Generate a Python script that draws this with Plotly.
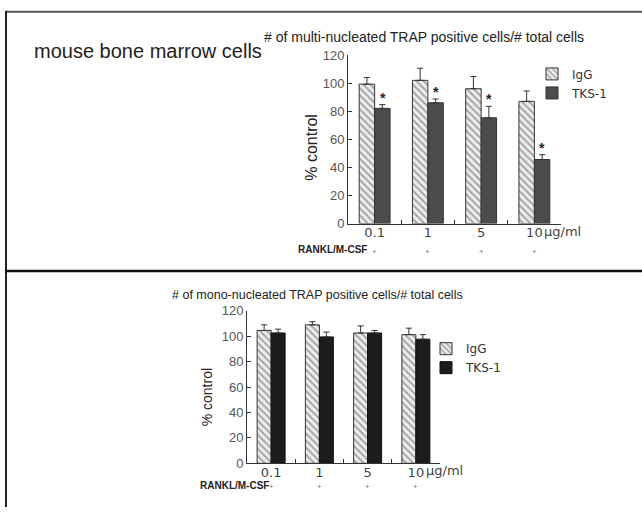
import plotly.graph_objects as go

# ---------------- data ----------------
doses = ["0.1", "1", "5", "10"]
dose_labels = ["0.1", "1", "5", "10"]
dose_unit = "μg/ml"
series_names = ["IgG", "TKS-1"]

multi_igg = [99.3, 102.0, 96.0, 87.0]
multi_igg_sd = [4.7, 8.6, 8.7, 7.4]
multi_tks = [82.0, 86.0, 75.3, 45.6]
multi_tks_sd = [2.7, 2.7, 8.2, 3.4]
multi_sig = [True, True, True, True]

mono_igg = [104.6, 109.0, 102.6, 101.3]
mono_igg_sd = [4.4, 2.5, 5.6, 5.1]
mono_tks = [102.6, 99.5, 102.6, 97.7]
mono_tks_sd = [3.0, 3.8, 2.0, 3.6]

y_ticks = [0, 20, 40, 60, 80, 100, 120]

title_main = "mouse bone marrow cells"
title_multi = "# of multi-nucleated TRAP positive cells/# total cells"
title_mono = "# of mono-nucleated TRAP positive cells/# total cells"
y_title = "% control"
treat_label = "RANKL/M-CSF"
treat_marks = ["+", "+", "+", "+"]

W, H = 642, 515
FONT = "Liberation Sans, Arial, sans-serif"
TICKFONT = "DejaVu Sans, sans-serif"


def px_x(p):
    return p / W


def px_y(p):
    return 1 - p / H


# category index positions (for annotations on category axes)
idx = list(range(len(doses)))

hatch = dict(shape="\\", fgcolor="#555555", bgcolor="#ececec", size=5, solidity=0.35)


def err(sd):
    return dict(type="data", symmetric=False, array=sd, arrayminus=[0] * len(sd),
                color="#333333", thickness=1, width=3)


fig = go.Figure()

# top panel
fig.add_trace(go.Bar(
    x=doses, y=multi_igg, name=series_names[0], xaxis="x", yaxis="y", legend="legend",
    marker=dict(color="#ececec", pattern=hatch, line=dict(color="#333333", width=1)),
    error_y=err(multi_igg_sd)))
fig.add_trace(go.Bar(
    x=doses, y=multi_tks, name=series_names[1], xaxis="x", yaxis="y", legend="legend",
    marker=dict(color="#4b4b4b", line=dict(color="#333333", width=1)),
    error_y=err(multi_tks_sd)))

# bottom panel
fig.add_trace(go.Bar(
    x=doses, y=mono_igg, name=series_names[0], xaxis="x2", yaxis="y2", legend="legend2",
    marker=dict(color="#ececec", pattern=hatch, line=dict(color="#333333", width=1)),
    error_y=err(mono_igg_sd)))
fig.add_trace(go.Bar(
    x=doses, y=mono_tks, name=series_names[1], xaxis="x2", yaxis="y2", legend="legend2",
    marker=dict(color="#1c1c1c", line=dict(color="#111111", width=1)),
    error_y=err(mono_tks_sd)))

xcommon = dict(type="category", categoryorder="array", categoryarray=doses,
               range=[-0.5, len(doses) - 0.5], autorange=False,
               showline=True, linecolor="#333333", linewidth=1,
               ticks="inside", ticklen=4, tickcolor="#333333", tickson="boundaries",
               showgrid=False, zeroline=False, tickangle=0, ticklabelstandoff=-3,
               tickmode="array", tickvals=doses, ticktext=dose_labels,
               tickfont=dict(family=TICKFONT, size=13, color="#444444"))
ycommon = dict(range=[0, 120], autorange=False, showline=True, linecolor="#333333",
               linewidth=1, ticks="inside", ticklen=4, tickcolor="#333333",
               showgrid=False, zeroline=False, tickmode="array", tickvals=y_ticks,
               tickfont=dict(family=FONT, size=13, color="#555555"))

annotations = []

# unit after the last dose label
for xa, ypix in (("x", 221), ("x2", 468)):
    annotations.append(dict(x=idx[-1], y=px_y(ypix), xref=xa, yref="paper",
                            yanchor="top", xanchor="left", text=dose_unit,
                            showarrow=False, xshift=8,
                            font=dict(family=TICKFONT, size=13, color="#444444")))

# significance stars above TKS-1 bars
for i, v, s, sig in zip(idx, multi_tks, multi_tks_sd, multi_sig):
    if sig:
        annotations.append(dict(x=i, y=v + s, xref="x", yref="y", text="<b>*</b>",
                                showarrow=False, xshift=8, yanchor="bottom", yshift=-3,
                                font=dict(family=FONT, size=14, color="#222222")))

# treatment row
for xa, ypix in (("x", 252), ("x2", 494)):
    for i, m in zip(idx, treat_marks):
        annotations.append(dict(x=i, y=px_y(ypix), xref=xa, yref="paper", text=m,
                                showarrow=False, xanchor="center", yanchor="middle",
                                font=dict(family=FONT, size=8, color="#777777")))

for xpix, ypix in ((296, 250), (198, 493)):
    annotations.append(dict(x=px_x(xpix), y=px_y(ypix), xref="paper", yref="paper",
                            text="<b>" + treat_label + "</b>", showarrow=False,
                            xanchor="left", yanchor="middle",
                            font=dict(family=FONT, size=10, color="#222222")))

# titles
annotations.append(dict(x=px_x(32), y=px_y(45), xref="paper", yref="paper",
                        text=title_main, showarrow=False, xanchor="left", yanchor="middle",
                        font=dict(family=FONT, size=20, color="#222222")))
annotations.append(dict(x=px_x(262), y=px_y(31), xref="paper", yref="paper",
                        text=title_multi, showarrow=False, xanchor="left", yanchor="middle",
                        font=dict(family=FONT, size=14, color="#222222")))
annotations.append(dict(x=px_x(170), y=px_y(297), xref="paper", yref="paper",
                        text=title_mono, showarrow=False, xanchor="left", yanchor="middle",
                        font=dict(family=FONT, size=12.5, color="#222222")))

# y axis titles
annotations.append(dict(x=px_x(312), y=px_y(145), xref="paper", yref="paper",
                        text=y_title, showarrow=False, textangle=-90,
                        xanchor="center", yanchor="middle",
                        font=dict(family=FONT, size=16, color="#222222")))
annotations.append(dict(x=px_x(207), y=px_y(402), xref="paper", yref="paper",
                        text=y_title, showarrow=False, textangle=-90,
                        xanchor="center", yanchor="middle",
                        font=dict(family=FONT, size=14, color="#222222")))

shapes = [
    dict(type="line", xref="paper", yref="paper", x0=px_x(5), x1=1, y0=px_y(5), y1=px_y(5),
         line=dict(color="#555555", width=2)),
    dict(type="line", xref="paper", yref="paper", x0=px_x(6), x1=px_x(6), y0=px_y(4), y1=0,
         line=dict(color="#222222", width=2)),
    dict(type="line", xref="paper", yref="paper", x0=px_x(5), x1=1, y0=px_y(272), y1=px_y(272),
         line=dict(color="#111111", width=2.5)),
]

fig.update_layout(
    width=W, height=H, margin=dict(l=0, r=0, t=0, b=0),
    paper_bgcolor="white", plot_bgcolor="white",
    barmode="group", bargap=0.42, bargroupgap=0,
    font=dict(family=FONT, color="#222222"),
    xaxis=dict(xcommon, domain=[px_x(348), px_x(561)], anchor="y"),
    yaxis=dict(ycommon, domain=[px_y(223), px_y(49.5)], anchor="x"),
    xaxis2=dict(xcommon, domain=[px_x(247), px_x(440)], anchor="y2"),
    yaxis2=dict(ycommon, domain=[px_y(470), px_y(313)], anchor="x2"),
    legend=dict(x=px_x(532), y=px_y(54), xanchor="left", yanchor="top",
                bgcolor="rgba(0,0,0,0)", tracegroupgap=0,
                font=dict(family=TICKFONT, size=12, color="#333333")),
    legend2=dict(x=px_x(426), y=px_y(337), xanchor="left", yanchor="top",
                 bgcolor="rgba(0,0,0,0)", tracegroupgap=0,
                 font=dict(family=TICKFONT, size=12, color="#333333")),
    annotations=annotations,
    shapes=shapes,
    showlegend=True,
)

fig.write_html("out.html", config={"displayModeBar": False},
               post_script="document.body.style.margin='0';")
